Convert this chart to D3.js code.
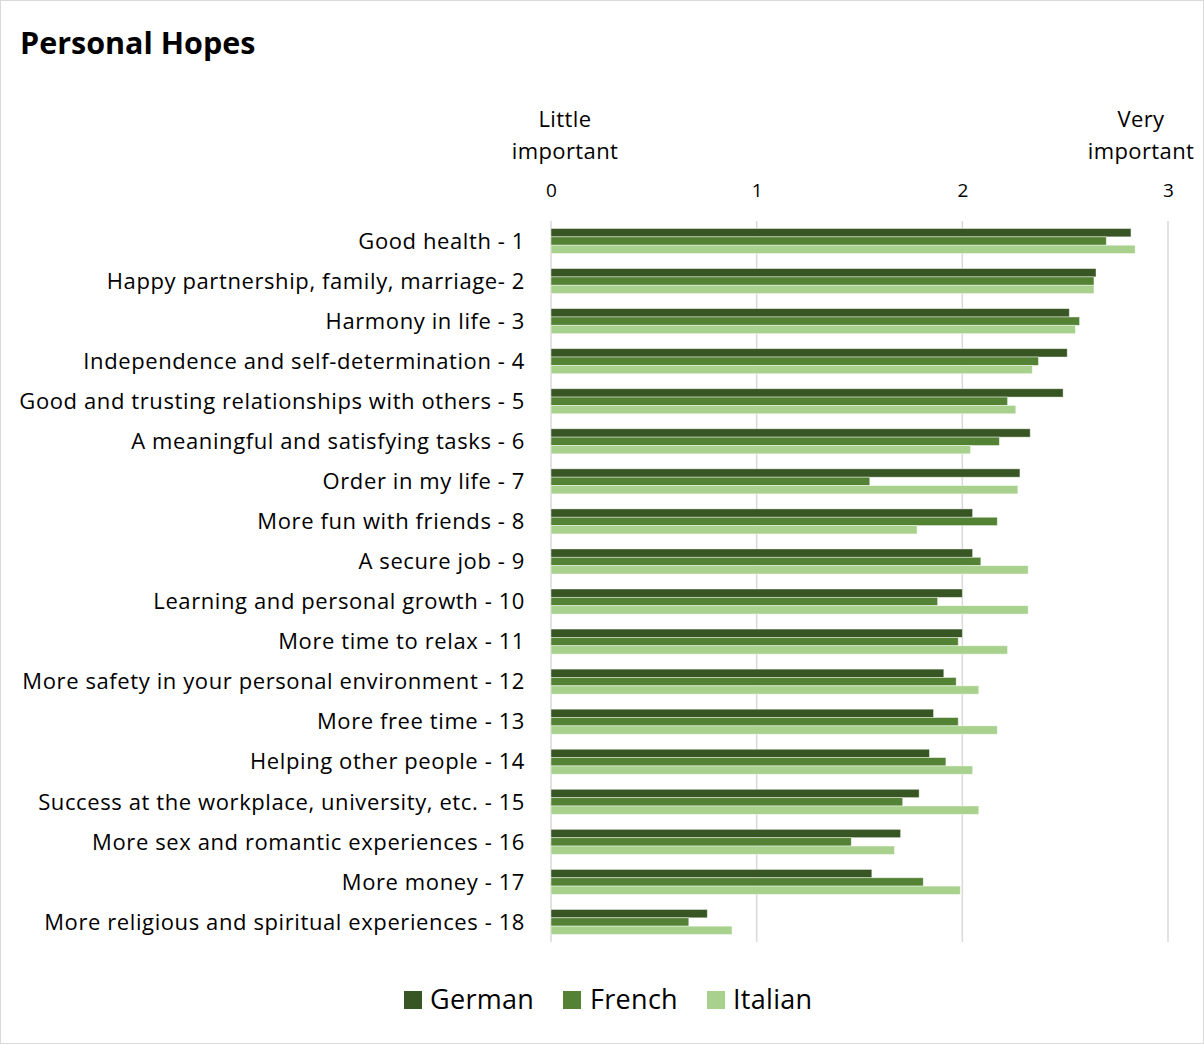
<!DOCTYPE html>
<html>
<head>
<meta charset="utf-8">
<script src="https://cdn.jsdelivr.net/npm/d3@7"></script>
<style>
  html, body { margin: 0; padding: 0; background: #fff; }
  svg { display: block; font-family: "Open Sans", "Noto Sans", sans-serif; }
</style>
</head>
<body>
<svg id="chart" width="1204" height="1044"></svg>
<script>
// Survey items, top to bottom
const categories = [
  "Good health - 1",
  "Happy partnership, family, marriage- 2",
  "Harmony in life - 3",
  "Independence and self-determination - 4",
  "Good and trusting relationships with others - 5",
  "A meaningful and satisfying tasks - 6",
  "Order in my life - 7",
  "More fun with friends - 8",
  "A secure job - 9",
  "Learning and personal growth - 10",
  "More time to relax - 11",
  "More safety in your personal environment - 12",
  "More free time - 13",
  "Helping other people - 14",
  "Success at the workplace, university, etc. - 15",
  "More sex and romantic experiences - 16",
  "More money - 17",
  "More religious and spiritual experiences - 18"
];

const seriesNames = ["German", "French", "Italian"];

// Mean importance per item (0 = little important, 3 = very important)
const german  = [2.82, 2.65, 2.52, 2.51, 2.49, 2.33, 2.28, 2.05, 2.05, 2.00, 2.00, 1.91, 1.86, 1.84, 1.79, 1.70, 1.56, 0.76];
const french  = [2.70, 2.64, 2.57, 2.37, 2.22, 2.18, 1.55, 2.17, 2.09, 1.88, 1.98, 1.97, 1.98, 1.92, 1.71, 1.46, 1.81, 0.67];
const italian = [2.84, 2.64, 2.55, 2.34, 2.26, 2.04, 2.27, 1.78, 2.32, 2.32, 2.22, 2.08, 2.17, 2.05, 2.08, 1.67, 1.99, 0.88];

const xTicks = [0, 1, 2, 3];
const axisEndLabels = [
  { value: 0, lines: ["Little", "important"] },
  { value: 3, lines: ["Very", "important"] }
];

const colors = ["#375623", "#548235", "#A9D18E"];

const svg = d3.select("#chart");
const W = 1204, H = 1044;

// Outer chart-area border
svg.append("rect")
  .attr("x", 0.5).attr("y", 0.5)
  .attr("width", W - 1).attr("height", H - 1)
  .attr("fill", "#fff").attr("stroke", "#d9d9d9");

// Title
svg.append("text")
  .attr("x", 20).attr("y", 54)
  .attr("font-size", 30.5).attr("font-weight", 700)
  .attr("fill", "#000")
  .text("Personal Hopes");

const plot = { left: 551, right: 1168, top: 221, bottom: 942 };

const x = d3.scaleLinear().domain([0, 3]).range([plot.left, plot.right]);
const y = d3.scaleBand().domain(categories).range([plot.top, plot.bottom]).padding(0);
const ySub = d3.scaleBand().domain(seriesNames).range([0, y.bandwidth()])
  .paddingInner(0).paddingOuter(0.9);

// Vertical gridlines
svg.append("g")
  .selectAll("line")
  .data(xTicks)
  .join("line")
  .attr("x1", d => x(d)).attr("x2", d => x(d))
  .attr("y1", plot.top).attr("y2", plot.bottom)
  .attr("stroke", "#d9d9d9").attr("stroke-width", 1.5);

// Top axis tick labels
const xAxis = d3.axisTop(x).tickValues(xTicks).tickSize(0).tickPadding(0).tickFormat(d3.format("d"));
const gx = svg.append("g")
  .attr("transform", `translate(0, 197)`)
  .call(xAxis);
gx.select(".domain").remove();
gx.selectAll("text")
  .attr("font-family", "'Open Sans', 'Noto Sans', sans-serif")
  .attr("font-size", 19).attr("fill", "#000");

// Scale end descriptions
const endG = svg.append("g");
axisEndLabels.forEach(lbl => {
  const t = endG.append("text")
    .attr("text-anchor", "middle")
    .attr("font-size", 22).attr("letter-spacing", 0.4).attr("fill", "#000");
  const cx = lbl.value === 0 ? x(lbl.value) + 14 : x(lbl.value) - 27;
  lbl.lines.forEach((ln, i) => {
    t.append("tspan").attr("x", cx).attr("y", 127 + i * 32).text(ln);
  });
});

// Category labels
svg.append("g")
  .selectAll("text")
  .data(categories)
  .join("text")
  .attr("x", 525)
  .attr("y", d => y(d) + y.bandwidth() / 2)
  .attr("dy", "0.35em")
  .attr("text-anchor", "end")
  .attr("font-size", 22).attr("letter-spacing", 0.6).attr("fill", "#000")
  .text(d => d);

// Bars
const seriesData = [german, french, italian];
const rows = categories.map((c, i) => ({
  cat: c,
  vals: seriesNames.map((s, j) => ({ s, j, v: seriesData[j][i] }))
}));

const groups = svg.append("g")
  .selectAll("g")
  .data(rows)
  .join("g")
  .attr("transform", d => `translate(0, ${y(d.cat)})`);

groups.selectAll("rect")
  .data(d => d.vals)
  .join("rect")
  .attr("x", x(0))
  .attr("y", d => ySub(d.s))
  .attr("width", d => x(d.v) - x(0))
  .attr("height", ySub.bandwidth())
  .attr("fill", d => colors[d.j])
  .attr("stroke", "rgba(255,255,255,0.55)")
  .attr("stroke-width", 0.8);

// Legend
const legendItems = [
  { name: "German", sx: 404, tx: 430 },
  { name: "French", sx: 563, tx: 590 },
  { name: "Italian", sx: 707, tx: 733 }
];
const lg = svg.append("g");
legendItems.forEach((it, i) => {
  lg.append("rect")
    .attr("x", it.sx).attr("y", 991)
    .attr("width", 18).attr("height", 18)
    .attr("fill", colors[i]);
  lg.append("text")
    .attr("x", it.tx).attr("y", 1009)
    .attr("font-size", 27).attr("letter-spacing", 0.3).attr("fill", "#000")
    .text(it.name);
});
</script>
</body>
</html>
